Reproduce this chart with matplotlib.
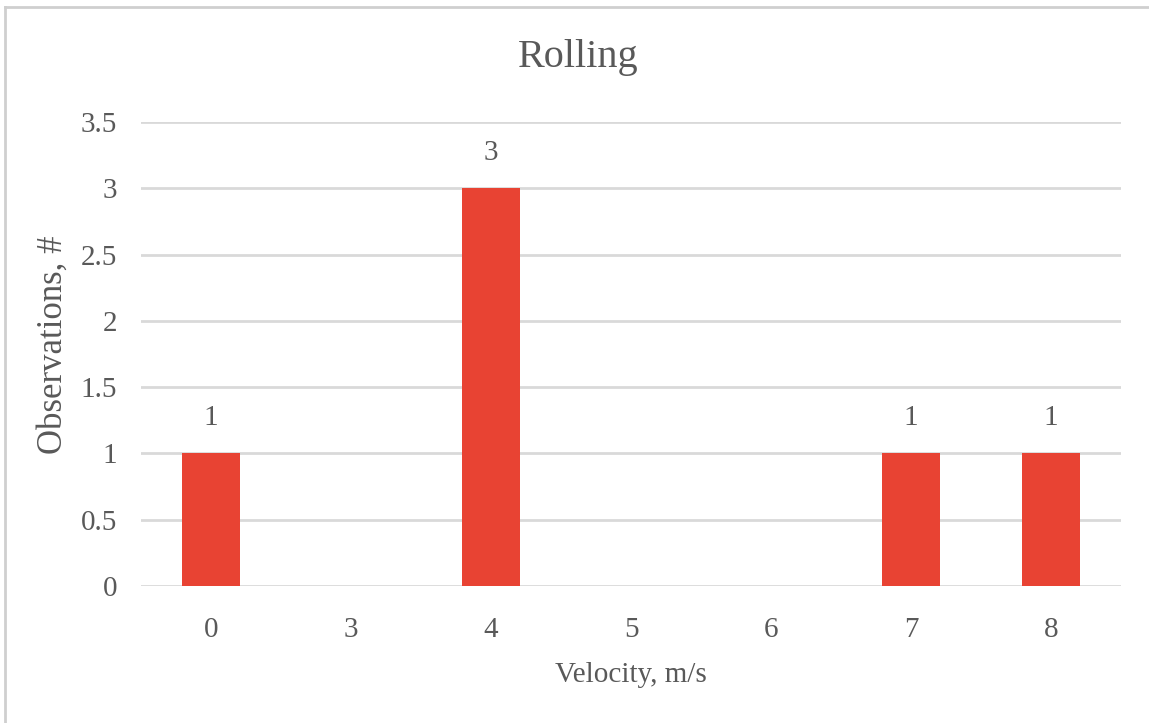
import matplotlib
matplotlib.use('Agg')
from matplotlib import pyplot as plt
from matplotlib.lines import Line2D

velocity = ['0', '3', '4', '5', '6', '7', '8']
observations = [1, 0, 3, 0, 0, 1, 1]
y_ticks = [0, 0.5, 1, 1.5, 2, 2.5, 3, 3.5]
y_tick_labels = ['0', '0.5', '1', '1.5', '2', '2.5', '3', '3.5']

text_color = '#595959'
bar_color = '#E84333'
grid_color = '#D9D9D9'

plt.rcParams['font.family'] = ['Liberation Serif', 'DejaVu Serif']

fig = plt.figure(figsize=(11.49, 7.23), dpi=100)
ax = fig.add_axes([141 / 1149, 1 - 586 / 723, 980 / 1149, 464 / 723])

x = list(range(len(velocity)))
bars = ax.bar(x, observations, width=0.415, color=bar_color, zorder=3)

for xi, v in zip(x, observations):
    if v > 0:
        ax.annotate('{:g}'.format(v), (xi, v), xytext=(0, 16), textcoords='offset points',
                    ha='center', va='bottom', fontsize=21, color=text_color)

ax.set_xlim(-0.5, len(velocity) - 0.5)
ax.set_ylim(0, 3.5)
ax.set_xticks(x)
ax.set_xticklabels(velocity)
ax.set_yticks(y_ticks)
ax.set_yticklabels(y_tick_labels)
ax.tick_params(axis='both', length=0, labelsize=21, labelcolor=text_color)
ax.tick_params(axis='x', pad=22)
ax.tick_params(axis='y', pad=17)
ax.yaxis.grid(True, color=grid_color, linewidth=2, zorder=0)
ax.set_axisbelow(True)
for s in ax.spines.values():
    s.set_visible(False)

ax.set_xlabel('Velocity, m/s', fontsize=21, color=text_color, labelpad=14)
ax.set_ylabel('Observations, #', fontsize=25, color=text_color)
ax.yaxis.set_label_coords(-0.073, 0.52)
fig.text(578 / 1149, 1 - 58 / 723, 'Rolling', ha='center', va='center',
         fontsize=29, color=text_color)

# chart frame (only top and left edges visible)
fig.add_artist(Line2D([4.5 / 1149, 4.5 / 1149], [0, 1 - 6.5 / 723], transform=fig.transFigure,
                      color='#CFCFCF', linewidth=2))
fig.add_artist(Line2D([4.5 / 1149, 1], [1 - 6.5 / 723, 1 - 6.5 / 723], transform=fig.transFigure,
                      color='#CFCFCF', linewidth=2))

fig.savefig('out.png', dpi=100, facecolor='white')
